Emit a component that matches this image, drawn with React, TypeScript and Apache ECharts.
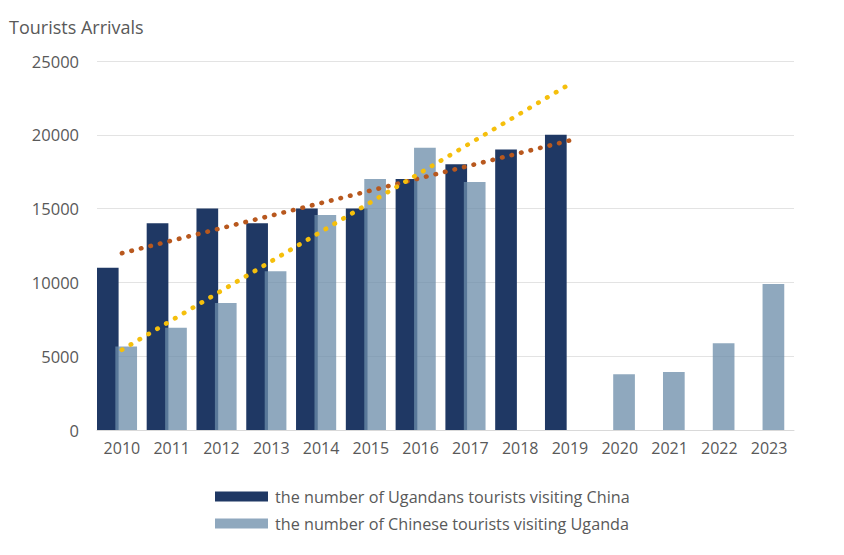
import React, { useEffect, useRef } from "react";
import * as echarts from "echarts";

const years = ["2010", "2011", "2012", "2013", "2014", "2015", "2016", "2017", "2018", "2019", "2020", "2021", "2022", "2023"];
const ugandansToChina = [11000, 14000, 15000, 14000, 15000, 15000, 17000, 18000, 19000, 20000, null, null, null, null];
const chineseToUganda = [5650, 6930, 8600, 10750, 14570, 17000, 19130, 16800, null, null, 3780, 3930, 5870, 9900];
const trendYears = ["2010", "2019"];
const ugandansTrend = [11980, 19620];
const chineseTrend = [5430, 23440];
const yMin = 0;
const yMax = 25000;
const yStep = 5000;
const seriesNames = [
  "the number of Ugandans tourists visiting China",
  "the number of Chinese tourists visiting Uganda",
];
const yTitle = "Tourists Arrivals";

const FONT = "'Open Sans', sans-serif";
const TEXT = "#595959";

function trendData(values: number[]) {
  return years.map((y) => {
    const i = trendYears.indexOf(y);
    return i >= 0 ? values[i] : null;
  });
}

export default function App() {
  const ref = useRef<HTMLDivElement>(null);
  useEffect(() => {
    if (!ref.current) return;
    const chart = echarts.init(ref.current, undefined, { renderer: "svg" });
    chart.setOption({
      animation: false,
      backgroundColor: "#ffffff",
      textStyle: { fontFamily: FONT },
      title: {
        text: yTitle,
        left: 9,
        top: 17,
        padding: 0,
        textStyle: { fontFamily: FONT, fontSize: 18, fontWeight: "normal", color: TEXT, lineHeight: 20 },
      },
      grid: { left: 97, right: 50, top: 61, bottom: 125, containLabel: false },
      legend: {
        data: seriesNames,
        orient: "vertical",
        left: 215,
        top: 488,
        padding: 0,
        itemGap: 10,
        itemWidth: 53,
        itemHeight: 10,
        icon: "rect",
        textStyle: { fontFamily: FONT, fontSize: 16.2, color: TEXT, lineHeight: 17, padding: [0, 0, 0, 2] },
      },
      xAxis: {
        type: "category",
        data: years,
        axisLine: { show: true, lineStyle: { color: "#d9d9d9", width: 1 } },
        axisTick: { show: false },
        axisLabel: { color: TEXT, fontSize: 16, fontFamily: FONT, margin: 10, interval: 0 },
      },
      yAxis: {
        type: "value",
        min: yMin,
        max: yMax,
        interval: yStep,
        axisLine: { show: false },
        axisTick: { show: false },
        axisLabel: {
          color: TEXT,
          fontSize: 16.5,
          fontFamily: FONT,
          margin: 18,
          formatter: (v: number) => String(v),
        },
        splitLine: { lineStyle: { color: "#e3e3e3", width: 1 } },
      },
      series: [
        {
          name: seriesNames[0],
          type: "bar",
          data: ugandansToChina,
          barWidth: 21.7,
          barGap: "-15%",
          itemStyle: { color: "#1F3864" },
          z: 2,
        },
        {
          name: seriesNames[1],
          type: "bar",
          data: chineseToUganda,
          barWidth: 21.7,
          barGap: "-15%",
          itemStyle: { color: "rgba(108,140,170,0.76)" },
          z: 2,
        },
        {
          name: "",
          type: "bar",
          data: [],
          barWidth: 13.1,
          barGap: "-15%",
          silent: true,
        },
        {
          name: "trend-ug",
          type: "line",
          data: trendData(ugandansTrend),
          connectNulls: true,
          symbol: "none",
          lineStyle: { color: "#B8581E", width: 4.6, type: [0.5, 9.3], cap: "round" },
          z: 4,
        },
        {
          name: "trend-cn",
          type: "line",
          data: trendData(chineseTrend),
          connectNulls: true,
          symbol: "none",
          lineStyle: { color: "#F5BF0C", width: 4.6, type: [0.5, 9.8], cap: "round" },
          z: 4,
        },
      ],
    });
    return () => chart.dispose();
  }, []);
  return (
    <div
      ref={ref}
      style={{ position: "fixed", left: 0, top: 0, width: 844, height: 555, background: "#fff" }}
    />
  );
}
